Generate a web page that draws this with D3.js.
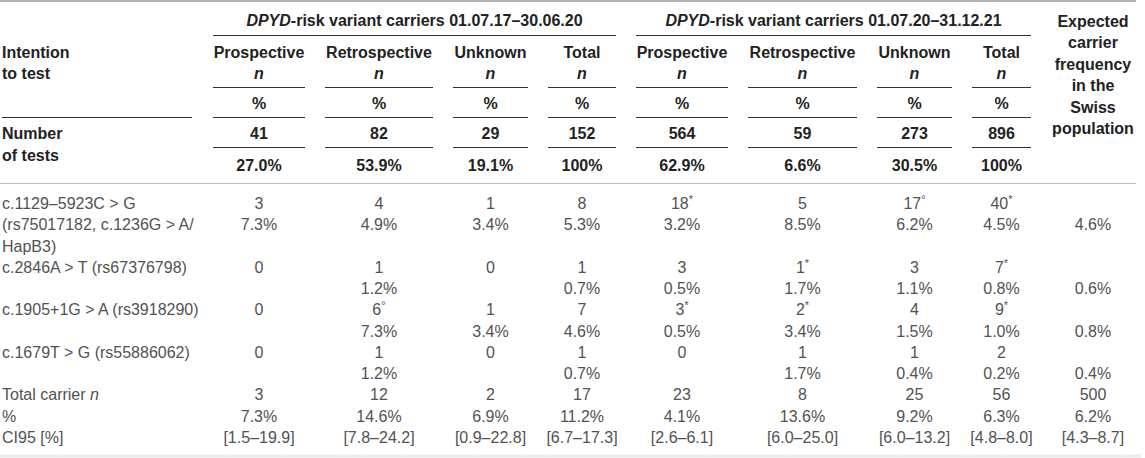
<!DOCTYPE html>
<html>
<head>
<meta charset="utf-8">
<script src="https://cdn.jsdelivr.net/npm/d3@7"></script>
<style>
  body { margin: 0; background: #fff; }
  text { font-family: "Liberation Sans", Arial, sans-serif; font-size: 16px; }
</style>
</head>
<body>
<div id="chart"></div>
<script>
// table content
const periods = ['01.07.17–30.06.20', '01.07.20–31.12.21'];
const intentions = ['Prospective', 'Retrospective', 'Unknown', 'Total'];
const rowHeader = ['Intention', 'to test'];
const testsLabel = ['Number', 'of tests'];
const testsN = ['41', '82', '29', '152', '564', '59', '273', '896'];
const testsPct = ['27.0%', '53.9%', '19.1%', '100%', '62.9%', '6.6%', '30.5%', '100%'];
const expectedHeader = ['Expected', 'carrier', 'frequency', 'in the', 'Swiss', 'population'];

const variantLabels = [
  ['c.1129–5923C > G', '(rs75017182, c.1236G > A/', 'HapB3)'],
  ['c.2846A > T (rs67376798)'],
  ['c.1905+1G > A (rs3918290)'],
  ['c.1679T > G (rs55886062)']
];
const variantN = [
  ['3', '4', '1', '8', '18*', '5', '17°', '40*'],
  ['0', '1', '0', '1', '3', '1*', '3', '7*'],
  ['0', '6°', '1', '7', '3*', '2*', '4', '9*'],
  ['0', '1', '0', '1', '0', '1', '1', '2']
];
const variantPct = [
  ['7.3%', '4.9%', '3.4%', '5.3%', '3.2%', '8.5%', '6.2%', '4.5%'],
  ['', '1.2%', '', '0.7%', '0.5%', '1.7%', '1.1%', '0.8%'],
  ['', '7.3%', '3.4%', '4.6%', '0.5%', '3.4%', '1.5%', '1.0%'],
  ['', '1.2%', '', '0.7%', '', '1.7%', '0.4%', '0.2%']
];
const expectedFreq = ['4.6%', '0.6%', '0.8%', '0.4%'];
const totalCarrierN = ['3', '12', '2', '17', '23', '8', '25', '56', '500'];
const totalCarrierPct = ['7.3%', '14.6%', '6.9%', '11.2%', '4.1%', '13.6%', '9.2%', '6.3%', '6.2%'];
const ci95 = ['[1.5–19.9]', '[7.8–24.2]', '[0.9–22.8]', '[6.7–17.3]', '[2.6–6.1]', '[6.0–25.0]', '[6.0–13.2]', '[4.8–8.0]', '[4.3–8.7]'];

// layout
const width = 1145, height = 458;
const labelW = 203;
const colW = [112, 128, 95, 88, 112, 129, 95, 79, 104];
const pad = 10;
const bodyColor = '#525252', headColor = '#222';

const edges = [labelW, ...Array.from(d3.cumsum(colW), d => d + labelW)];
const x = d3.scaleOrdinal(d3.range(colW.length), colW.map((w, i) => edges[i] + w / 2));
const xLeft = i => edges[i] + pad;
const xRight = i => edges[i + 1] - pad;

// body lines are evenly spaced
const yBody = d3.scaleLinear().domain([0, 11]).range([203, 437]);
const yHead = { group: 20, title: 52, n: 73, pct: 103, tests: 133, testsPct: 165, testsLabel2: 155 };
const yExp = d3.scaleLinear().domain([0, 5]).range([21, 128]);

const svg = d3.select('#chart')
  .append('svg')
  .attr('width', width)
  .attr('height', height)
  .attr('viewBox', [0, 0, width, height]);

svg.append('rect').attr('width', width).attr('height', height).attr('fill', '#fff');

// write one text with optional italic runs and trailing superscript mark
function cell(g, xPos, yPos, parts, opts = {}) {
  if (typeof parts === 'string') {
    const m = parts.match(/^(.*?)([*°])$/);
    parts = m ? [{ t: m[1] }, { t: m[2], sup: true }] : [{ t: parts }];
  }
  const t = g.append('text')
    .attr('x', xPos)
    .attr('y', yPos)
    .attr('dominant-baseline', 'central')
    .attr('text-anchor', opts.anchor || 'middle')
    .attr('fill', opts.bold ? headColor : bodyColor)
    .attr('font-weight', opts.bold ? 'bold' : 'normal');
  parts.forEach(p => {
    const s = t.append('tspan').text(p.t);
    if (p.italic) s.attr('font-style', 'italic');
    if (p.sup) s.attr('font-size', '11px').attr('dy', -4);
  });
  return t;
}

const lines = svg.append('g').attr('class', 'rules');
const hline = (x1, x2, y, color, w) => lines.append('line')
  .attr('x1', x1).attr('x2', x2).attr('y1', y).attr('y2', y)
  .attr('stroke', color).attr('stroke-width', w);

// outer and separating rules
hline(0, 1136, 1, '#b3b3b3', 2);
hline(0, 1136, 183.5, '#bdbdbd', 1);
hline(0, 1141, 456, '#ebebeb', 3);

const head = svg.append('g').attr('class', 'head');

// period group headers
periods.forEach((p, gi) => {
  const c0 = gi * 4, c1 = gi * 4 + 3;
  cell(head, (xLeft(c0) + xRight(c1)) / 2, yHead.group,
    [{ t: 'DPYD', italic: true }, { t: '-risk variant carriers ' + p }], { bold: true });
  hline(xLeft(c0), xRight(c1), 35.5, '#333', 1.2);
});

// sub column headers
d3.range(8).forEach(i => {
  cell(head, x(i), yHead.title, intentions[i % 4], { bold: true });
  cell(head, x(i), yHead.n, [{ t: 'n', italic: true }], { bold: true });
  hline(xLeft(i), xRight(i), 87.5, '#333', 1.2);
  cell(head, x(i), yHead.pct, '%', { bold: true });
  hline(xLeft(i), xRight(i), 117.5, '#333', 1.2);
  cell(head, x(i), yHead.tests, testsN[i], { bold: true });
  hline(xLeft(i), xRight(i), 147.5, '#333', 1.2);
  cell(head, x(i), yHead.testsPct, testsPct[i], { bold: true });
});

cell(head, 2, yHead.title, rowHeader[0], { bold: true, anchor: 'start' });
cell(head, 2, yHead.n, rowHeader[1], { bold: true, anchor: 'start' });
hline(2, 192, 117.5, '#333', 1.2);
cell(head, 2, yHead.tests, testsLabel[0], { bold: true, anchor: 'start' });
cell(head, 2, yHead.testsLabel2, testsLabel[1], { bold: true, anchor: 'start' });

expectedHeader.forEach((t, i) => cell(head, x(8), yExp(i), t, { bold: true }));

// body
const body = svg.append('g').attr('class', 'body');
let line = 0;
variantLabels.forEach((lab, r) => {
  lab.forEach((t, k) => cell(body, 2, yBody(line + k), t, { anchor: 'start' }));
  variantN[r].forEach((v, i) => { if (v) cell(body, x(i), yBody(line), v); });
  variantPct[r].forEach((v, i) => { if (v) cell(body, x(i), yBody(line + 1), v); });
  cell(body, x(8), yBody(line + 1), expectedFreq[r]);
  line += r === 0 ? 3 : 2;
});

cell(body, 2, yBody(9), [{ t: 'Total carrier ' }, { t: 'n', italic: true }], { anchor: 'start' });
cell(body, 2, yBody(10), '%', { anchor: 'start' });
cell(body, 2, yBody(11), 'CI95 [%]', { anchor: 'start' });
totalCarrierN.forEach((v, i) => cell(body, x(i), yBody(9), v));
totalCarrierPct.forEach((v, i) => cell(body, x(i), yBody(10), v));
ci95.forEach((v, i) => cell(body, x(i), yBody(11), v));
</script>
</body>
</html>
